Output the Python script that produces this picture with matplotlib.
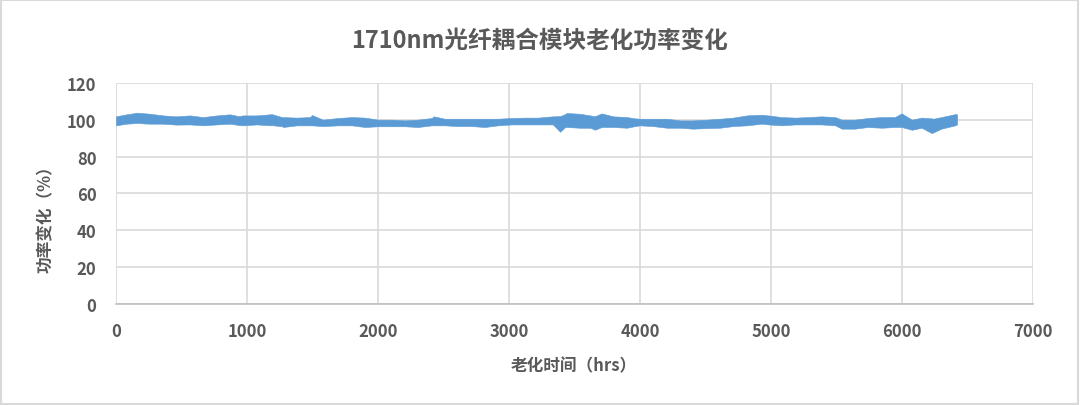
import matplotlib
matplotlib.use('Agg')
import matplotlib.pyplot as plt
from matplotlib.patches import Rectangle

plt.rcParams['font.family'] = ['Noto Sans CJK SC', 'DejaVu Sans']
plt.rcParams['axes.unicode_minus'] = False

# 老化数据：读图得到的带状曲线上下包络
hours = [0, 80, 147, 160, 224, 260, 360, 460, 565, 665, 770, 870, 936, 970, 1075,
         1175, 1190, 1267, 1275, 1380, 1480, 1496, 1580, 1695, 1800, 1900, 2000,
         2105, 2205, 2305, 2410, 2425, 2510, 2610, 2715, 2815, 2915, 3020, 3120,
         3220, 3335, 3390, 3427, 3440, 3540, 3620, 3656, 3707, 3795, 3900, 3962,
         4000, 4100, 4205, 4305, 4405, 4470, 4510, 4610, 4710, 4815, 4929, 4980,
         5080, 5185, 5285, 5385, 5490, 5540, 5640, 5740, 5845, 5945, 5997, 6075,
         6150, 6226, 6240, 6300, 6405, 6420]
upper = [101.9, 103.0, 103.7, 103.9, 103.5, 103.3, 102.4, 101.9, 102.4, 101.5,
         102.4, 103.0, 102.0, 102.4, 102.4, 103.0, 103.1, 101.5, 101.5, 101.2,
         101.5, 102.6, 100.1, 101.0, 101.5, 101.2, 100.1, 100.1, 99.7, 100.1,
         101.0, 101.9, 100.6, 100.6, 100.6, 100.6, 100.6, 101.0, 101.2, 101.2,
         101.9, 102.0, 103.1, 103.7, 103.3, 102.4, 102.0, 103.5, 101.9, 101.5,
         100.8, 100.6, 100.6, 100.6, 99.7, 99.7, 100.0, 100.1, 100.6, 101.2,
         102.4, 102.8, 102.4, 101.5, 101.2, 101.5, 101.9, 101.5, 100.1, 100.1,
         101.0, 101.5, 101.5, 103.5, 100.1, 101.2, 100.8, 100.6, 101.5, 103.1,
         103.0]
lower = [97.0, 97.9, 98.2, 98.3, 98.0, 97.9, 97.9, 97.4, 97.5, 97.0,
         97.5, 97.9, 97.2, 97.0, 97.5, 97.0, 97.1, 96.5, 96.1, 97.0,
         97.0, 97.0, 96.6, 97.0, 97.0, 96.1, 96.5, 96.5, 96.5, 96.1,
         97.0, 97.0, 97.0, 96.6, 96.6, 96.1, 97.0, 97.5, 97.5, 97.5,
         97.5, 93.5, 96.0, 96.1, 95.7, 95.7, 94.6, 96.1, 96.1, 95.7,
         96.6, 97.0, 96.6, 95.7, 95.7, 95.2, 95.4, 95.5, 95.7, 96.6,
         97.0, 97.9, 97.5, 97.0, 97.5, 97.5, 97.5, 97.0, 95.2, 95.2,
         96.1, 95.7, 96.1, 96.1, 94.6, 95.7, 92.8, 93.2, 95.2, 97.0,
         97.5]

x_ticks = [0, 1000, 2000, 3000, 4000, 5000, 6000, 7000]
y_ticks = [0, 20, 40, 60, 80, 100, 120]

text_color = '#595959'
grid_color = '#D9D9D9'
line_color = '#5B9BD5'

fig = plt.figure(figsize=(10.8, 4.06), dpi=100)
fig.patch.set_facecolor('white')
fig.add_artist(Rectangle((0.001, 0.002), 0.997, 0.995, transform=fig.transFigure,
                         fill=False, edgecolor='#D9D9D9', linewidth=1.5))

ax = fig.add_axes([0.1074, 0.2488, 0.8491, 0.5443])
ax.fill_between(hours, lower, upper, color=line_color, linewidth=0.4,
                edgecolor=line_color, zorder=3)

ax.set_xlim(0, 7000)
ax.set_ylim(0, 120)
ax.set_xticks(x_ticks)
ax.set_yticks(y_ticks)
ax.grid(True, color=grid_color, linewidth=1.2)
ax.set_axisbelow(True)
for side in ['top', 'right', 'left']:
    ax.spines[side].set_visible(False)
ax.spines['bottom'].set_color('#BFBFBF')
ax.spines['bottom'].set_linewidth(1.2)
ax.tick_params(axis='both', length=0, labelsize=12, labelcolor=text_color)
ax.tick_params(axis='y', pad=14)
ax.tick_params(axis='x', pad=13)
for lab in ax.get_xticklabels() + ax.get_yticklabels():
    lab.set_fontweight('bold')

fig.text(0.5, 0.90, '1710nm光纤耦合模块老化功率变化', ha='center', va='center',
         fontsize=17, fontweight='bold', color=text_color)
fig.text(0.5315, 0.098, '老化时间（hrs）', ha='center', va='center',
         fontsize=12, fontweight='bold', color=text_color)
fig.text(0.042, 0.47, '功率变化（%）', ha='center', va='center', rotation=90,
         fontsize=12, fontweight='bold', color=text_color)

fig.savefig('out.png', dpi=100, facecolor='white')
